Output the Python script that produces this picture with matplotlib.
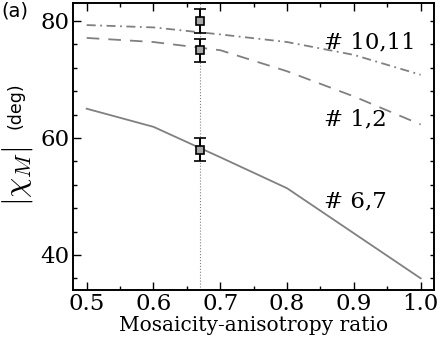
import matplotlib
matplotlib.use("Agg")
import matplotlib.pyplot as plt
from matplotlib.ticker import MultipleLocator

plt.rcParams['font.family'] = 'serif'
plt.rcParams['font.serif'] = ['DejaVu Serif']
plt.rcParams['mathtext.fontset'] = 'cm'

ratio = [0.5, 0.6, 0.7, 0.8, 0.9, 1.0]
chi_1_2 = [77.1, 76.4, 75.0, 71.4, 67.1, 62.3]
chi_10_11 = [79.3, 78.9, 77.7, 76.4, 74.2, 70.8]
chi_6_7 = [65.0, 61.9, 56.7, 51.4, 43.7, 36.0]

# measured points
meas_x = [0.67, 0.67, 0.67]
meas_y = [80.0, 75.0, 58.0]
meas_err = [2.0, 2.0, 2.0]

labels = ['# 10,11', '# 1,2', '# 6,7']
label_y = [76.4, 63.1, 49.2]

grey = '#808080'

fig = plt.figure(figsize=(4.43, 3.42), dpi=100)
ax = fig.add_axes([0.1655, 0.152, 0.8142, 0.838])

ax.axvline(0.67, color=grey, lw=0.8, ls=':')
ax.plot(ratio, chi_10_11, color=grey, lw=1.3, dashes=(5, 2.5, 1, 2.5))
ax.plot(ratio, chi_1_2, color=grey, lw=1.3, dashes=(7, 5))
ax.plot(ratio, chi_6_7, color=grey, lw=1.3)
ax.errorbar(meas_x, meas_y, yerr=meas_err, fmt='s', ms=5.5, mfc='#a8a8a8',
            mec='black', mew=1.2, ecolor='black', elinewidth=1.4,
            capsize=4.5, capthick=1.6, zorder=5)

for t, yy in zip(labels, label_y):
    ax.text(0.856, yy, t, fontsize=16.5, va='center', ha='left')

ax.set_xlim(0.48, 1.02)
ax.set_ylim(34, 83)
ax.xaxis.set_major_locator(MultipleLocator(0.1))
ax.xaxis.set_minor_locator(MultipleLocator(0.05))
ax.yaxis.set_major_locator(MultipleLocator(20))
ax.yaxis.set_minor_locator(MultipleLocator(4))
ax.tick_params(which='both', direction='in', top=True, right=False,
               labelsize=16.5, width=1.0)
ax.tick_params(axis='x', which='major', length=5.8, pad=2)
ax.tick_params(axis='x', which='minor', length=2.9)
ax.tick_params(axis='y', which='major', length=5.8, pad=3)
ax.tick_params(axis='y', which='minor', length=2.9)

ax2 = ax.twinx()
ax2.set_ylim(ax.get_ylim())
ax2.yaxis.set_major_locator(MultipleLocator(4))
ax2.tick_params(direction='in', length=2.9, width=1.0, labelright=False)

for a in (ax, ax2):
    for s in a.spines.values():
        s.set_linewidth(1.2)

ax.set_xlabel('Mosaicity-anisotropy ratio', fontsize=14.5, labelpad=1)
# y label: big |chi_M| with small (deg) beside it
fig.text(0.040, 0.485, r'$|\chi_M|$', fontsize=23, rotation=90,
         ha='center', va='center')
fig.text(0.034, 0.69, '(deg)', fontsize=12.5, family='DejaVu Sans',
         rotation=90, ha='center', va='center')

fig.text(0.002, 0.997, '(a)', fontsize=14, family='DejaVu Sans', va='top', ha='left')

fig.savefig('out.png', dpi=100)
